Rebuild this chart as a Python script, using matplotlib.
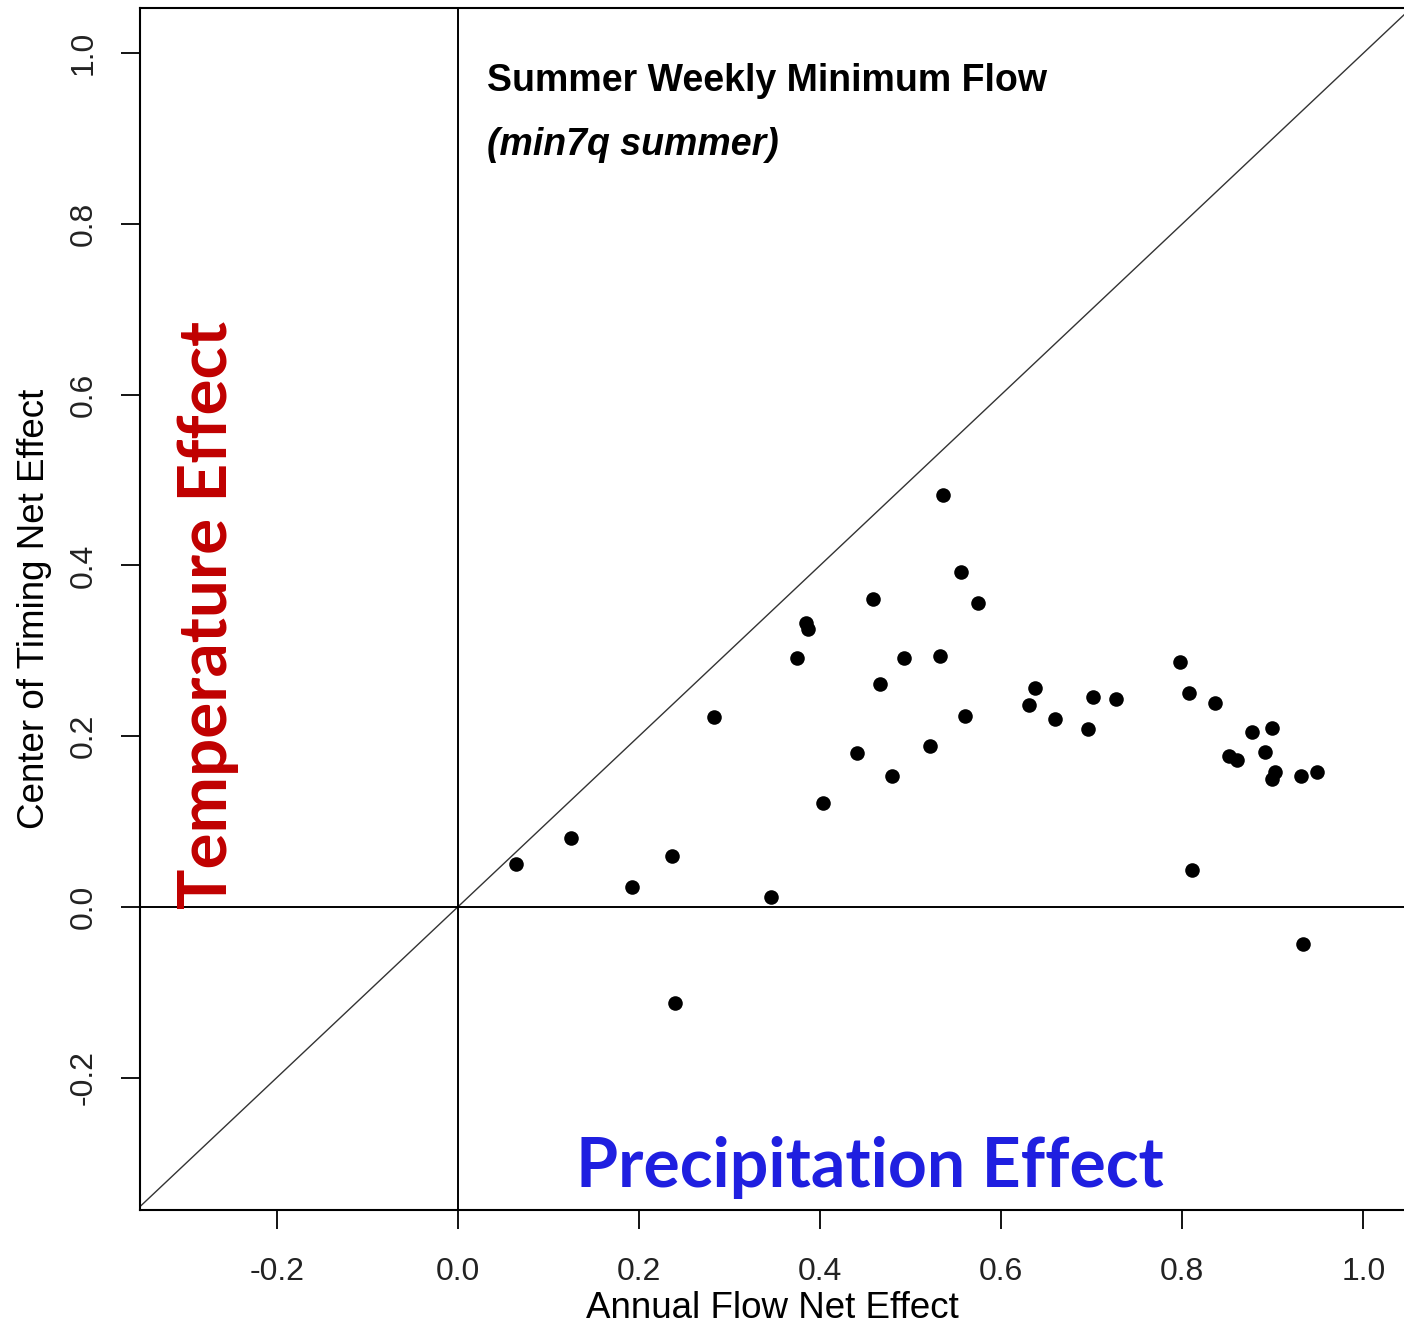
import numpy as np
import matplotlib
matplotlib.use("Agg")
import matplotlib.pyplot as plt

# Annual flow net effect (x) and center of timing net effect (y)
flujo_anual = [0.064, 0.125, 0.192, 0.237, 0.346, 0.240,
               0.536, 0.556, 0.574, 0.459, 0.384, 0.387, 0.375, 0.493, 0.533,
               0.466, 0.283, 0.560, 0.522, 0.441, 0.479, 0.403,
               0.798, 0.638, 0.631, 0.701, 0.727, 0.807, 0.836, 0.660, 0.696,
               0.877, 0.899, 0.892, 0.852, 0.861, 0.902, 0.899, 0.931, 0.949,
               0.811, 0.933]
centro_tiempo = [0.050, 0.081, 0.023, 0.060, 0.012, -0.112,
                 0.483, 0.392, 0.356, 0.361, 0.333, 0.325, 0.292, 0.292, 0.294,
                 0.261, 0.222, 0.224, 0.189, 0.180, 0.153, 0.122,
                 0.287, 0.256, 0.237, 0.246, 0.244, 0.251, 0.239, 0.220, 0.208,
                 0.205, 0.210, 0.182, 0.177, 0.172, 0.158, 0.150, 0.153, 0.158,
                 0.043, -0.043]

ticks = [-0.2, 0.0, 0.2, 0.4, 0.6, 0.8, 1.0]
tick_labels = ["-0.2", "0.0", "0.2", "0.4", "0.6", "0.8", "1.0"]

W, H = 1404, 1325
fig = plt.figure(figsize=(W / 100, H / 100), dpi=100)
ax = fig.add_axes([140 / W, (H - 1210) / H, (W - 140) / W, 1202 / H])

ax.set_xlim(-0.351, 1.045)
ax.set_ylim(-0.355, 1.053)

# linea 1:1 y ejes en cero
lims = np.array([-0.4, 1.1])
ax.plot(lims, lims, color="#333333", lw=1.0)
ax.axvline(0, color="black", lw=1.4)
ax.axhline(0, color="black", lw=1.4)

ax.scatter(flujo_anual, centro_tiempo, s=110, color="black", zorder=3, linewidths=0)

font = "Liberation Sans"
ax.set_xticks(ticks)
ax.set_xticklabels(tick_labels, fontsize=23, family=font, color="#222222")
ax.set_yticks(ticks)
ax.set_yticklabels(tick_labels, fontsize=23, family=font, color="#222222",
                   rotation=90, va="center")
ax.tick_params(axis="x", length=14, width=1.3, pad=20)
ax.tick_params(axis="y", length=14, width=1.3, pad=16)
for s in ["left", "bottom", "top"]:
    ax.spines[s].set_linewidth(1.5)
ax.spines["right"].set_visible(False)

ax.set_xlabel("Annual Flow Net Effect", fontsize=26.5, family=font, labelpad=3)
ax.set_ylabel("Center of Timing Net Effect", fontsize=26.5, family=font, labelpad=12)

ax.text(0.2745, 0.939, "Summer Weekly Minimum Flow", fontsize=27, fontweight="bold",
        family=font, va="center", ha="left", transform=ax.transAxes)
ax.text(0.2745, 0.886, "(min7q summer)", fontsize=27, fontweight="bold",
        fontstyle="italic", family=font, va="center", ha="left", transform=ax.transAxes)

ax.text(-0.276, 0.342, "Temperature Effect", rotation=90, color="#C00000",
        fontsize=48.5, fontweight="bold", family="Lato", ha="center", va="center")
ax.text(0.455, -0.305, "Precipitation Effect", color="#1F1FE0",
        fontsize=49, fontweight="bold", family="Lato", ha="center", va="center")

fig.savefig("out.png", dpi=100)
